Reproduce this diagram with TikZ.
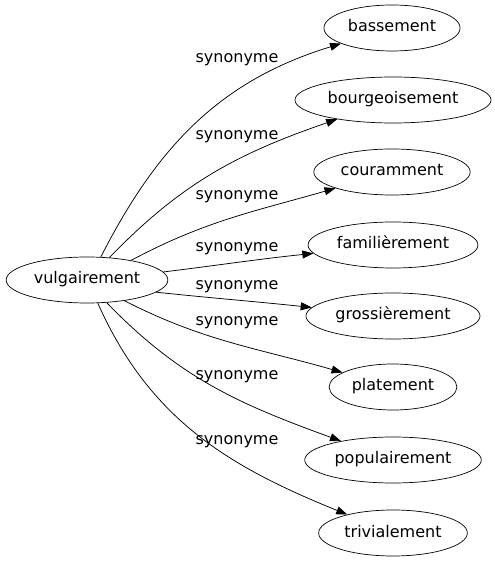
\documentclass[tikz,border=0pt]{standalone}
\usepackage{fontspec}
\setmainfont{DejaVu Sans}
\usetikzlibrary{arrows.meta,shapes.geometric}

\begin{document}
\begin{tikzpicture}[x=1pt,y=1pt,
    word/.style = {draw, ellipse, line width=.7pt, minimum height=46pt,
                   inner xsep=4pt, inner ysep=2pt, text height=11pt, text depth=3pt,
                   font=\fontsize{16}{19}\selectfont},
    syn/.style = {line width=.75pt, -{Triangle[length=11pt,width=8pt]}},
    lbl/.style = {inner sep=0pt, font=\fontsize{16}{19}\selectfont}]

      \useasboundingbox (0,0) rectangle (495,563);

      \node[word] (vulg) at (87,283) {vulgairement};

      \node[word] (bass) at (392,535) {bassement};
      \node[word] (bour) at (393,463) {bourgeoisement};
      \node[word] (cour) at (392,391) {couramment};
      \node[word] (fami) at (393,318) {familièrement};
      \node[word] (gros) at (393,247) {grossièrement};
      \node[word] (plat) at (393,176) {platement};
      \node[word] (popu) at (393,103) {populairement};
      \node[word] (triv) at (393,30) {trivialement};

      \node[lbl] (s1) at (237,503) {synonyme};
      \node[lbl] (s2) at (237,426) {synonyme};
      \node[lbl] (s3) at (237,366) {synonyme};
      \node[lbl] (s4) at (237,314) {synonyme};
      \node[lbl] (s5) at (237,276) {synonyme};
      \node[lbl] (s6) at (237,240) {synonyme};
      \node[lbl] (s7) at (237,186) {synonyme};
      \node[lbl] (s8) at (237,121) {synonyme};

      \draw[syn] (vulg.59) to[out=63,in=197] (bass);
      \draw[syn] (vulg.45) to[out=46,in=199] (bour);
      \draw[syn] (vulg.24) to[out=28,in=196] (cour);
      \draw[syn] (vulg.6) to[out=7,in=186] (fami);
      \draw[syn] (vulg.-10) to[out=-6,in=174] (gros);
      \draw[syn] (vulg.-29) to[out=-27,in=164] (plat);
      \draw[syn] (vulg.-49) to[out=-46,in=160] (popu);
      \draw[syn] (vulg.-65) to[out=-66,in=158] (triv);
    \end{tikzpicture}
\end{document}
